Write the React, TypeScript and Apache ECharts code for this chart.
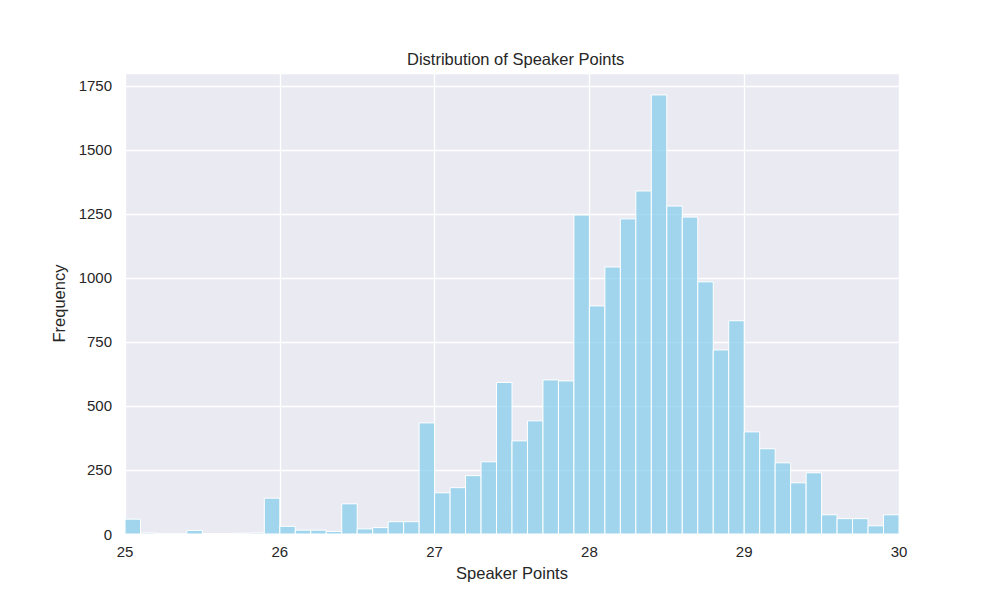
import React from "react";
import * as echarts from "echarts";

// histogram bin edges (25.0 .. 30.0, 50 bins)
const binEdges = [
  25.0, 25.1, 25.2, 25.3, 25.4, 25.5, 25.6, 25.7, 25.8, 25.9,
  26.0, 26.1, 26.2, 26.3, 26.4, 26.5, 26.6, 26.7, 26.8, 26.9,
  27.0, 27.1, 27.2, 27.3, 27.4, 27.5, 27.6, 27.7, 27.8, 27.9,
  28.0, 28.1, 28.2, 28.3, 28.4, 28.5, 28.6, 28.7, 28.8, 28.9,
  29.0, 29.1, 29.2, 29.3, 29.4, 29.5, 29.6, 29.7, 29.8, 29.9,
  30.0,
];
const counts = [
  58, 4, 1, 1, 14, 2, 2, 3, 4, 140,
  30, 15, 15, 10, 118, 20, 25, 48, 48, 434,
  161, 181, 228, 282, 592, 364, 442, 602, 598, 1246,
  891, 1043, 1231, 1340, 1715, 1281, 1238, 985, 719, 833,
  399, 333, 278, 200, 239, 75, 60, 60, 32, 75,
];
const xTicks = [25, 26, 27, 28, 29, 30];
const yTicks = [0, 250, 500, 750, 1000, 1250, 1500, 1750];

const TEXT = "#262626";
const FONT = "Liberation Sans, Arial, sans-serif";

export default function App() {
  const chartRef = React.useRef<HTMLDivElement>(null);

  React.useEffect(() => {
    document.body.style.margin = "0";
    if (!chartRef.current) return;
    const chart = echarts.init(chartRef.current, undefined, { renderer: "svg" });

    const data = counts.map((c, i) => [binEdges[i], binEdges[i + 1], c]);

    chart.setOption({
      animation: false,
      backgroundColor: "#ffffff",
      textStyle: { fontFamily: FONT, color: TEXT },
      title: {
        text: "Distribution of Speaker Points",
        left: 402,
        top: 45,
        textStyle: { fontFamily: FONT, color: TEXT, fontSize: 16.5, fontWeight: "normal" },
      },
      grid: {
        left: 125,
        right: 101,
        top: 73,
        bottom: 66,
        show: true,
        backgroundColor: "#EAEAF2",
        borderWidth: 0,
      },
      xAxis: {
        type: "value",
        min: 25,
        max: 30,
        interval: 1,
        name: "Speaker Points",
        nameLocation: "middle",
        nameGap: 30,
        nameTextStyle: { fontFamily: FONT, color: TEXT, fontSize: 16.5 },
        axisLine: { show: false },
        axisTick: { show: false },
        axisLabel: {
          color: TEXT,
          fontFamily: FONT,
          fontSize: 15,
          margin: 10,
          formatter: (v: number) => (xTicks.includes(v) ? String(v) : ""),
        },
        splitLine: { show: true, lineStyle: { color: "#ffffff", width: 1.3 } },
      },
      yAxis: {
        type: "value",
        min: 0,
        max: 1800.75,
        interval: 250,
        name: "Frequency",
        nameLocation: "middle",
        nameGap: 47,
        nameTextStyle: { fontFamily: FONT, color: TEXT, fontSize: 16.5 },
        axisLine: { show: false },
        axisTick: { show: false },
        axisLabel: {
          color: TEXT,
          fontFamily: FONT,
          fontSize: 15,
          margin: 13,
          showMaxLabel: false,
          formatter: (v: number) => (yTicks.includes(v) ? String(v) : ""),
        },
        splitLine: { show: true, lineStyle: { color: "#ffffff", width: 1.3 } },
      },
      series: [
        {
          type: "custom",
          encode: { x: [0, 1], y: 2 },
          data,
          renderItem: (params: any, api: any) => {
            const topLeft = api.coord([api.value(0), api.value(2)]);
            const bottomRight = api.coord([api.value(1), 0]);
            return {
              type: "rect",
              shape: {
                x: topLeft[0],
                y: topLeft[1],
                width: bottomRight[0] - topLeft[0],
                height: bottomRight[1] - topLeft[1],
              },
              style: {
                fill: "rgba(135,206,235,0.75)",
                stroke: "#ffffff",
                lineWidth: 1,
              },
            };
          },
        },
      ],
    });

    return () => {
      chart.dispose();
    };
  }, []);

  return <div ref={chartRef} style={{ width: 1000, height: 600 }} />;
}
